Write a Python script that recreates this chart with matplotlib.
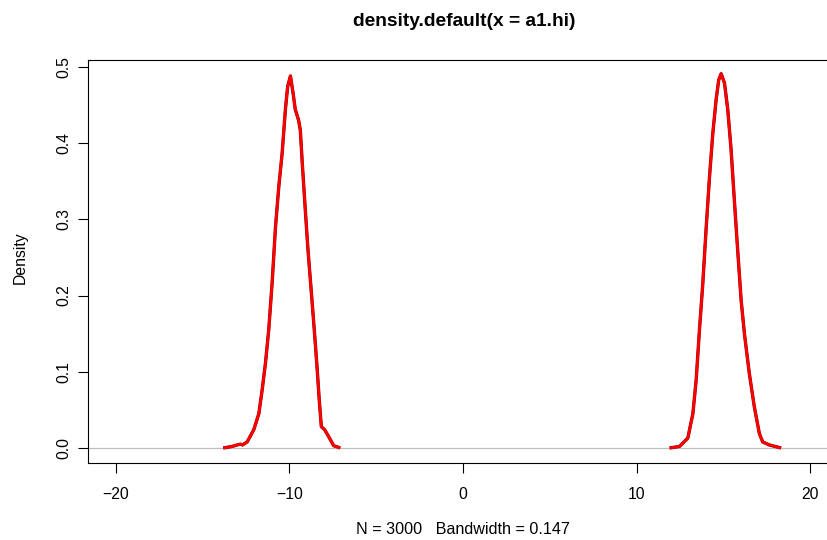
import matplotlib.pyplot as plt

plt.rcParams['font.family'] = ['Liberation Sans', 'DejaVu Sans']

# density curve, left mode
left_x = [-13.81, -13.30, -13.01, -12.82, -12.70, -12.43, -12.05, -11.76, -11.57,
          -11.38, -11.19, -10.99, -10.80, -10.61, -10.42, -10.23, -10.10, -9.94,
          -9.79, -9.66, -9.47, -9.37, -9.27, -9.12, -8.93, -8.70, -8.55, -8.41,
          -8.28, -8.16, -7.97, -7.74, -7.45, -7.07]
left_y = [0.000, 0.002, 0.004, 0.005, 0.004, 0.008, 0.024, 0.045, 0.076,
          0.111, 0.155, 0.218, 0.290, 0.343, 0.386, 0.444, 0.474, 0.488,
          0.466, 0.444, 0.430, 0.417, 0.378, 0.325, 0.260, 0.194, 0.150, 0.107,
          0.063, 0.028, 0.024, 0.015, 0.003, 0.000]

# density curve, right mode
right_x = [11.90, 12.47, 12.95, 13.24, 13.43, 13.62, 13.81, 14.01, 14.20, 14.39,
           14.58, 14.73, 14.87, 15.06, 15.25, 15.44, 15.63, 15.82, 16.02, 16.21,
           16.49, 16.78, 17.07, 17.26, 17.64, 18.32]
right_y = [0.000, 0.002, 0.013, 0.045, 0.089, 0.155, 0.215, 0.290, 0.356, 0.413,
           0.457, 0.483, 0.491, 0.479, 0.444, 0.392, 0.325, 0.260, 0.194, 0.150,
           0.098, 0.054, 0.019, 0.008, 0.004, 0.000]

x_ticks = [-20, -10, 0, 10, 20]
y_ticks = [0.0, 0.1, 0.2, 0.3, 0.4, 0.5]

fig = plt.figure(figsize=(8.27, 5.4), dpi=100)
ax = fig.add_axes([88 / 827, 77 / 540, 750 / 827, 403 / 540])

ax.axhline(0, color='#bebebe', lw=0.9, zorder=1)
for xs, ys in [(left_x, left_y), (right_x, right_y)]:
    ax.plot(xs, ys, color='#8b0000', lw=2.4, solid_joinstyle='round',
            solid_capstyle='butt', zorder=2)
    ax.plot(xs, ys, color='#ff0000', lw=1.9, solid_joinstyle='round',
            solid_capstyle='butt', zorder=3)

ax.set_xlim(-21.6, 21.6)
ax.set_ylim(-0.0197, 0.509)
ax.set_xticks(x_ticks)
ax.set_yticks(y_ticks)
ax.set_yticklabels([f'{v:.1f}' for v in y_ticks], rotation=90, va='center')
ax.tick_params(direction='out', length=7.2, width=0.8, labelsize=11.3)
ax.tick_params(axis='x', pad=10)
ax.tick_params(axis='y', pad=5)
for s in ax.spines.values():
    s.set_linewidth(0.8)
ax.spines['right'].set_visible(False)

fig.text(464 / 827, 1 - 21 / 540, 'density.default(x = a1.hi)',
         ha='center', va='center', fontsize=13.8, fontweight='bold')
fig.text(463.5 / 827, 1 - 529 / 540, 'N = 3000   Bandwidth = 0.147',
         ha='center', va='center', fontsize=11.6)
fig.text(20 / 827, 1 - 258 / 540, 'Density', rotation=90,
         ha='center', va='center', fontsize=11.3)

fig.savefig('out.png', dpi=100)
